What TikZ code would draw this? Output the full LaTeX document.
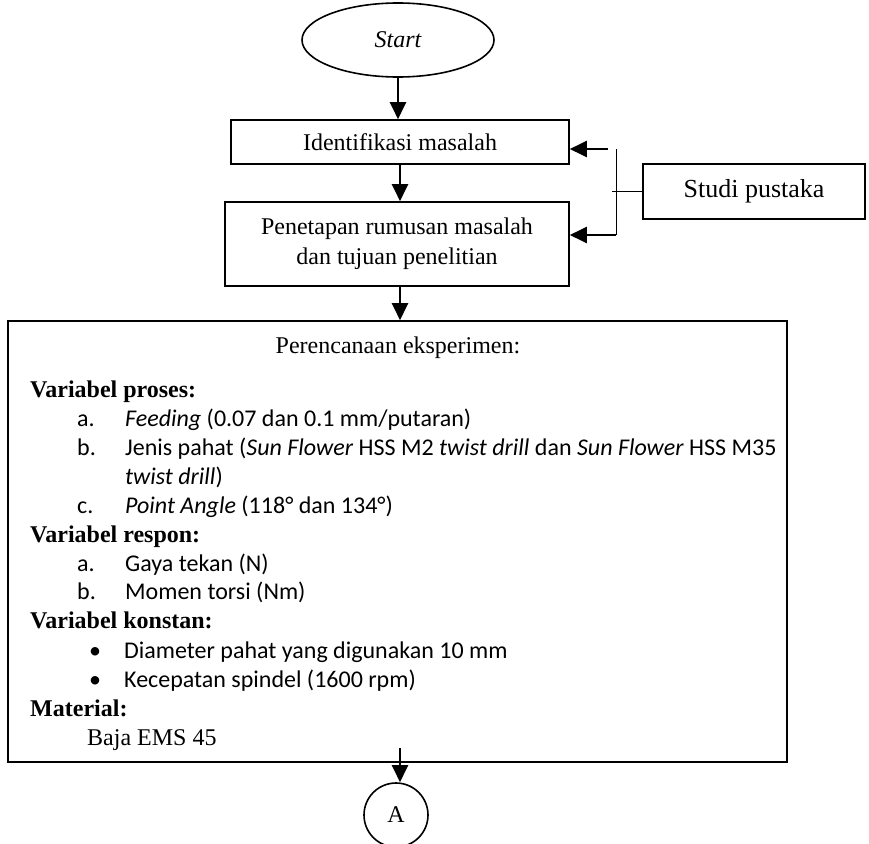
\documentclass[tikz,border=0pt]{standalone}
\usepackage{fontspec}
\setmainfont{Liberation Serif}
\newfontfamily\calibri{Carlito}
\usetikzlibrary{shapes.geometric,arrows.meta}

\tikzset{
  box/.style={draw, line width=1.6pt, inner sep=2pt},
  flow/.style={-{Triangle[width=16pt,length=17pt]}, line width=2.2pt},
  link/.style={line width=0.8pt},
  head/.style={anchor=base west, inner sep=0pt, font=\bfseries},
  item/.style={anchor=base west, inner sep=0pt, font=\calibri},
  plain/.style={anchor=base west, inner sep=0pt}
}

\begin{document}
\fontsize{24}{30}\selectfont
\begin{tikzpicture}[x=1pt, y=-1pt]
  \useasboundingbox (0,0) rectangle (869,843);

  % Start
  \node[box, ellipse, minimum width=192pt, minimum height=74pt, font=\itshape] (start) at (398,40) {Start};

  % Main boxes
  \node[box, minimum width=338pt, minimum height=44pt] (ident) at (400,142) {Identifikasi masalah};
  \node[box, minimum width=344pt, minimum height=84pt, align=center] (tetap) at (397,244)
    {Penetapan rumusan masalah\\dan tujuan penelitian};
  \node[box, minimum width=222pt, minimum height=55pt, font=\fontsize{26}{30}\selectfont] (studi) at (754,191.5) {Studi pustaka};

  % Experiment plan
  \node[box, minimum width=779pt, minimum height=441pt] (plan) at (397.5,541.5) {};
  \node[anchor=base, inner sep=0pt] (title) at (398,353) {Perencanaan eksperimen:};

  \node[head] (vproses) at (30,397) {Variabel proses:};
  \node[item] (pa) at (77,426) {a.};
  \node[item] (pat) at (125,426) {\textit{Feeding} (0.07 dan 0.1 mm/putaran)};
  \node[item] (pb) at (77,455) {b.};
  \node[item] (pbt) at (125,455) {Jenis pahat (\textit{Sun Flower} HSS M2 \textit{twist drill} dan \textit{Sun Flower} HSS M35};
  \node[item] (pbu) at (125,484) {\textit{twist drill})};
  \node[item] (pc) at (77,513) {c.};
  \node[item] (pct) at (125,513) {\textit{Point Angle} (118° dan 134°)};

  \node[head] (vrespon) at (30,542) {Variabel respon:};
  \node[item] (ra) at (77,571) {a.};
  \node[item] (rat) at (125,571) {Gaya tekan (N)};
  \node[item] (rb) at (77,599) {b.};
  \node[item] (rbt) at (125,599) {Momen torsi (Nm)};

  \node[head] (vkonstan) at (30,628) {Variabel konstan:};
  \node[item] (ka) at (89,658) {•};
  \node[item] (kat) at (124,658) {Diameter pahat yang digunakan 10 mm};
  \node[item] (kb) at (89,687) {•};
  \node[item] (kbt) at (124,687) {Kecepatan spindel (1600 rpm)};

  \node[head] (mat) at (30,716) {Material:};
  \node[plain] (matt) at (87,745) {Baja EMS 45};

  % Connector A
  \node[box, circle, minimum size=64pt] (conA) at (396,815) {A};

  % Arrows
  \draw[flow] (start.south) -- (start.south |- ident.north);
  \draw[flow] (ident.south) -- (ident.south |- tetap.north);
  \draw[flow] ([xshift=3pt]tetap.south) -- ([xshift=3pt]tetap.south |- plan.north);
  \coordinate (aTop) at (400,748);
  \draw[flow] (aTop) -- (aTop |- conA.north);

  % Studi pustaka link
  \coordinate (jTop) at (616,149);
  \coordinate (jBot) at (616,235);
  \coordinate (jMid) at (612,191.5);
  \coordinate (iIn) at (608,149);
  \draw[link] (jTop) -- (jBot);
  \draw[link] (studi.west) -- (jMid);
  \draw[flow] (iIn) -- (iIn -| ident.east);
  \draw[flow] (jBot) -- (jBot -| tetap.east);
\end{tikzpicture}
\end{document}
